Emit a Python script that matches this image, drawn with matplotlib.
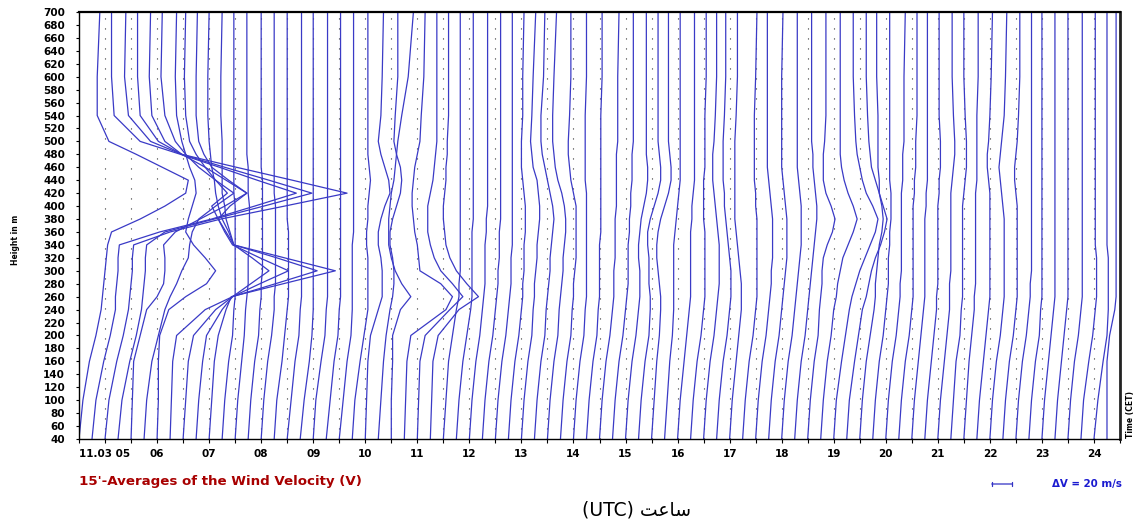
import numpy as np
import matplotlib.pyplot as plt

# heights of the profile points (m)
heights = [40, 100, 160, 200, 240, 260, 280, 300, 320, 340, 360,
           380, 400, 420, 440, 460, 480, 500, 540, 600, 700]

# one profile every 15 minutes, 04:30 .. 24:15
times = np.arange(4.5, 24.5, 0.25)

# wind velocity of each profile (m/s, relative to the lowest gate)
prof_0430 = [
    [0, 3, 8, 13, 17, 18, 19, 20, 21, 22, 25, 47, 66, 82, 84, 64, 44, 23, 14, 14, 16],
    [0, 3, 9, 14, 18, 18, 19, 20, 20, 21, 52, 92, 125, 157, 127, 98, 68, 37, 17, 15, 15],
    [0, 3, 9, 14, 18, 19, 20, 21, 21, 22, 50, 89, 138, 186, 144, 101, 59, 35, 18, 15, 16],
    [0, 3, 9, 14, 18, 19, 20, 21, 21, 22, 36, 74, 112, 149, 116, 82, 49, 31, 17, 15, 15],
    [0, 1, 2, 7, 12, 20, 25, 26, 26, 25, 34, 53, 72, 89, 73, 57, 39, 26, 16, 14, 15],
    [0, 2, 6, 11, 16, 20, 25, 29, 34, 35, 37, 42, 55, 69, 55, 42, 32, 24, 16, 13, 14],
    [0, 1, 1, 2, 9, 22, 38, 45, 37, 28, 22, 24, 27, 30, 29, 25, 22, 19, 15, 14, 15],
    [0, 1, 2, 5, 27, 48, 62, 76, 63, 49, 43, 37, 32, 44, 35, 27, 20, 15, 12, 11, 12],
    [0, 2, 4, 8, 25, 38, 59, 81, 59, 38, 32, 27, 36, 49, 35, 22, 16, 12, 10, 10, 11],
    [0, 2, 5, 8, 20, 28, 61, 93, 62, 29, 25, 20, 17, 15, 14, 12, 11, 10, 9, 9, 10],
    [0, 2, 4, 7, 13, 17, 57, 97, 58, 19, 16, 13, 12, 10, 10, 10, 10, 10, 9, 9, 10],
    [0, 2, 5, 8, 9, 10, 10, 10, 10, 10, 10, 10, 10, 9, 9, 9, 9, 9, 9, 9, 9],
    [0, 2, 5, 7, 8, 9, 10, 10, 10, 11, 11, 11, 11, 10, 10, 10, 9, 9, 9, 9, 9],
    [0, 2, 5, 8, 9, 10, 10, 11, 11, 11, 11, 11, 11, 11, 11, 10, 10, 10, 10, 10, 10],
    [0, 2, 5, 8, 10, 10, 11, 11, 11, 11, 11, 11, 11, 10, 10, 10, 10, 10, 10, 10, 10],
    [0, 2, 6, 8, 10, 11, 11, 11, 11, 11, 11, 10, 10, 10, 10, 10, 10, 10, 10, 10, 10],
    [0, 3, 6, 9, 10, 11, 11, 11, 11, 11, 11, 11, 11, 11, 11, 11, 11, 11, 11, 11, 11],
    [0, 3, 7, 9, 10, 10, 10, 10, 10, 10, 10, 10, 10, 10, 10, 10, 10, 10, 10, 10, 10],
    [0, 2, 6, 9, 10, 11, 11, 11, 11, 11, 11, 11, 11, 11, 11, 11, 11, 11, 11, 11, 11],
    [0, 3, 6, 9, 10, 11, 11, 11, 11, 11, 11, 11, 11, 11, 11, 11, 11, 11, 11, 11, 11],
]
prof_0930 = [
    [0, 3, 6, 9, 10, 10, 10, 10, 10, 10, 11, 11, 11, 11, 11, 11, 11, 11, 11, 11, 11],
    [0, 2, 6, 9, 12, 12, 12, 12, 12, 11, 11, 12, 12, 13, 14, 13, 12, 12, 12, 12, 12],
    [0, 1, 2, 4, 10, 13, 13, 13, 12, 10, 10, 12, 15, 19, 18, 15, 12, 10, 12, 13, 14],
    [0, 2, 4, 6, 9, 11, 12, 12, 11, 9, 9, 11, 14, 17, 18, 17, 14, 12, 13, 15, 15],
    [0, 0, 1, 1, 7, 15, 8, 3, 0, -2, -2, -2, -1, 0, 2, 3, 4, 5, 8, 13, 17],
    [0, 1, 2, 5, 32, 37, 28, 12, 11, 10, 8, 7, 6, 6, 7, 8, 10, 12, 13, 15, 16],
    [0, 1, 2, 6, 25, 35, 27, 18, 13, 10, 8, 8, 8, 10, 12, 13, 14, 15, 15, 15, 15],
    [0, 1, 2, 6, 22, 37, 28, 20, 15, 12, 11, 10, 10, 11, 12, 12, 13, 13, 14, 14, 14],
    [0, 2, 4, 7, 10, 12, 12, 13, 13, 13, 13, 13, 13, 13, 13, 13, 13, 13, 13, 13, 13],
    [0, 2, 5, 8, 11, 12, 12, 12, 12, 12, 12, 13, 13, 13, 13, 13, 13, 13, 13, 13, 13],
    [0, 2, 5, 8, 10, 11, 12, 12, 12, 12, 13, 13, 14, 14, 14, 14, 14, 14, 14, 14, 14],
    [0, 2, 5, 8, 10, 11, 12, 12, 13, 13, 13, 14, 14, 14, 14, 14, 14, 14, 14, 14, 14],
    [0, 2, 5, 8, 10, 11, 12, 12, 12, 13, 13, 13, 13, 13, 13, 13, 13, 13, 13, 13, 13],
    [0, 2, 5, 8, 10, 11, 11, 12, 12, 12, 13, 13, 13, 12, 11, 10, 10, 10, 11, 11, 12],
    [0, 2, 5, 8, 9, 10, 10, 11, 12, 12, 13, 14, 14, 13, 12, 9, 8, 7, 8, 9, 11],
    [0, 2, 5, 8, 9, 10, 11, 12, 12, 13, 14, 15, 14, 12, 10, 8, 6, 5, 5, 7, 8],
    [0, 2, 5, 8, 9, 10, 11, 12, 12, 13, 14, 14, 13, 11, 8, 6, 5, 4, 4, 5, 7],
    [0, 2, 5, 8, 9, 10, 10, 11, 12, 12, 12, 12, 12, 10, 8, 7, 6, 6, 7, 8, 8],
    [0, 2, 5, 8, 9, 10, 10, 10, 10, 10, 10, 10, 10, 10, 9, 9, 9, 9, 9, 10, 10],
    [0, 2, 5, 8, 9, 10, 10, 10, 10, 10, 11, 11, 11, 11, 11, 11, 11, 11, 11, 12, 12],
]
prof_1430 = [
    [0, 2, 5, 8, 10, 11, 11, 11, 12, 12, 12, 12, 13, 13, 13, 13, 13, 14, 14, 14, 15],
    [0, 2, 5, 8, 10, 11, 12, 12, 12, 12, 13, 13, 14, 14, 15, 15, 15, 16, 16, 16, 16],
    [0, 2, 5, 8, 10, 11, 11, 11, 10, 10, 11, 12, 14, 16, 17, 17, 16, 16, 16, 16, 16],
    [0, 2, 5, 8, 9, 9, 8, 8, 8, 7, 7, 9, 12, 15, 17, 17, 16, 15, 15, 15, 15],
    [0, 2, 4, 6, 7, 7, 6, 5, 4, 4, 5, 7, 10, 13, 15, 15, 14, 13, 13, 13, 13],
    [0, 2, 4, 6, 7, 7, 7, 7, 7, 7, 8, 9, 10, 11, 12, 12, 12, 12, 12, 12, 12],
    [0, 2, 5, 7, 9, 10, 10, 10, 10, 10, 10, 11, 11, 12, 13, 13, 13, 13, 13, 13, 13],
    [0, 2, 5, 8, 10, 11, 11, 11, 11, 11, 11, 10, 10, 10, 10, 11, 11, 11, 11, 12, 12],
    [0, 2, 5, 8, 10, 11, 12, 12, 12, 12, 11, 10, 9, 8, 7, 7, 7, 8, 9, 10, 10],
    [0, 2, 5, 8, 10, 11, 11, 11, 10, 9, 8, 7, 6, 6, 5, 5, 5, 5, 6, 7, 7],
    [0, 2, 5, 7, 9, 9, 9, 8, 7, 6, 5, 4, 4, 4, 4, 4, 4, 4, 5, 6, 6],
    [0, 2, 5, 8, 10, 11, 11, 11, 11, 11, 11, 11, 10, 10, 9, 9, 9, 9, 9, 10, 11],
    [0, 2, 5, 8, 10, 11, 12, 12, 13, 13, 13, 13, 12, 11, 10, 9, 9, 9, 9, 9, 9],
    [0, 2, 5, 8, 10, 11, 12, 13, 14, 14, 14, 14, 13, 12, 11, 10, 10, 10, 10, 10, 11],
    [0, 2, 5, 8, 10, 11, 12, 13, 14, 15, 15, 15, 15, 14, 13, 12, 12, 12, 12, 12, 12],
    [0, 2, 5, 8, 10, 11, 12, 13, 14, 15, 16, 17, 17, 16, 15, 14, 14, 13, 13, 13, 13],
    [0, 2, 5, 8, 9, 10, 11, 11, 12, 15, 19, 21, 18, 14, 12, 12, 12, 13, 14, 14, 14],
    [0, 2, 5, 8, 10, 12, 13, 15, 17, 21, 25, 28, 25, 21, 18, 16, 15, 15, 15, 15, 15],
    [0, 2, 6, 9, 12, 14, 17, 20, 24, 28, 32, 34, 30, 25, 22, 20, 18, 17, 16, 15, 15],
    [0, 2, 6, 9, 12, 15, 17, 19, 22, 26, 29, 31, 28, 25, 22, 19, 18, 17, 16, 15, 15],
]
prof_1930 = [
    [0, 2, 5, 8, 11, 12, 12, 13, 14, 15, 17, 18, 17, 15, 15, 14, 14, 14, 14, 13, 13],
    [0, 2, 5, 8, 10, 11, 12, 12, 12, 13, 13, 14, 14, 14, 13, 13, 13, 13, 13, 13, 13],
    [0, 2, 5, 8, 10, 11, 11, 12, 12, 12, 12, 12, 12, 12, 13, 13, 13, 14, 14, 14, 15],
    [0, 2, 5, 8, 10, 11, 11, 11, 11, 11, 11, 11, 11, 12, 12, 13, 13, 13, 14, 14, 14],
    [0, 2, 5, 7, 9, 10, 10, 10, 10, 10, 10, 10, 11, 11, 12, 12, 12, 12, 12, 12, 12],
    [0, 2, 5, 7, 9, 9, 10, 10, 10, 10, 10, 10, 10, 11, 11, 12, 12, 12, 11, 11, 11],
    [0, 2, 5, 7, 9, 9, 9, 10, 10, 10, 10, 10, 10, 10, 11, 12, 13, 13, 12, 11, 11],
    [0, 2, 4, 7, 8, 9, 9, 9, 9, 9, 9, 9, 9, 10, 11, 12, 12, 12, 11, 10, 10],
    [0, 2, 4, 6, 8, 8, 9, 9, 9, 9, 9, 9, 9, 9, 10, 10, 10, 10, 10, 11, 11],
    [0, 2, 5, 7, 9, 10, 10, 10, 10, 10, 10, 10, 10, 10, 9, 8, 8, 9, 10, 11, 12],
    [0, 2, 5, 8, 10, 11, 11, 11, 11, 11, 11, 11, 10, 9, 8, 7, 8, 9, 11, 12, 13],
    [0, 2, 5, 8, 10, 11, 11, 11, 11, 11, 11, 11, 11, 10, 9, 9, 10, 11, 12, 13, 13],
    [0, 2, 5, 8, 10, 11, 11, 12, 12, 12, 12, 12, 12, 12, 12, 12, 12, 12, 12, 12, 12],
    [0, 2, 5, 8, 9, 10, 10, 10, 10, 10, 10, 10, 10, 10, 10, 10, 10, 10, 10, 10, 10],
    [0, 2, 5, 7, 9, 10, 10, 10, 10, 10, 10, 10, 10, 10, 10, 10, 10, 10, 10, 10, 10],
    [0, 2, 5, 7, 9, 10, 10, 10, 10, 10, 10, 10, 10, 10, 10, 10, 10, 10, 10, 10, 10],
    [0, 2, 5, 8, 10, 11, 11, 11, 11, 11, 11, 11, 11, 11, 11, 11, 11, 11, 11, 11, 11],
    [0, 2, 6, 9, 11, 12, 12, 12, 12, 11, 11, 11, 11, 11, 11, 11, 11, 11, 11, 11, 11],
    [0, 3, 7, 10, 11, 11, 11, 11, 11, 10, 10, 10, 10, 10, 10, 10, 10, 10, 10, 10, 10],
    [0, 0, 0, 2, 6, 7, 7, 7, 7, 7, 7, 7, 7, 7, 7, 7, 7, 7, 7, 7, 7],
]
profiles = prof_0430 + prof_0930 + prof_1430 + prof_1930

hour_ticks = list(range(5, 25))
hour_labels = ['11.03 05'] + ['%02d' % h for h in range(6, 25)]
height_ticks = list(range(40, 701, 20))

scale = 0.5 / 20.0   # hours per m/s  (dV = 20 m/s <-> 30 min)

W, H = 1134, 522
fig = plt.figure(figsize=(W / 100, H / 100), dpi=100)
ax = fig.add_axes([79 / W, 1 - 439 / H, (1120 - 79) / W, (439 - 12) / H])

# half-hour dotted guide lines
for t in np.arange(5.0, 24.01, 0.5):
    ax.axvline(t, color='#333333', lw=0.8, ls=(0, (1, 8)), zorder=1)

for t, v in zip(times, profiles):
    ax.plot(t + np.array(v) * scale, heights, color='#3a3ac6', lw=0.9, zorder=2)

ax.set_xlim(4.5, 24.5)
ax.set_ylim(40, 700)
ax.set_yticks(height_ticks)
ax.set_yticklabels([str(h) for h in height_ticks], fontsize=7.5, fontweight='bold')
ax.set_xticks(hour_ticks)
ax.set_xticklabels(hour_labels, fontsize=7.5, fontweight='bold')
ax.set_xticks(np.arange(4.5, 24.51, 0.5), minor=True)
ax.tick_params(axis='y', length=2, width=0.8, pad=8)
ax.tick_params(axis='x', which='both', length=3, width=0.8, pad=4)

for s in ['left', 'bottom']:
    ax.spines[s].set_linewidth(1.0)
ax.spines['top'].set_linewidth(1.6)
ax.spines['right'].set_linewidth(2.0)
ax.spines['right'].set_color('#222222')

fig.text(15 / W, 1 - 240 / H, 'Height in m', rotation=90, fontsize=5.5,
         fontweight='bold', ha='center', va='center')
fig.text(1130 / W, 1 - 415 / H, 'Time (CET)', rotation=90, fontsize=5.5,
         fontweight='bold', ha='center', va='center')

fig.text(79 / W, 1 - 482 / H, "15'-Averages of the Wind Velocity (V)", color='#a80000',
         fontsize=9.6, fontweight='bold', ha='left', va='center')

ax.annotate('', xy=(1015 / W, 1 - 484 / H), xytext=(989 / W, 1 - 484 / H),
            xycoords='figure fraction', textcoords='figure fraction',
            arrowprops=dict(arrowstyle='|-|,widthA=0.15,widthB=0.15', color='#3232c4', lw=0.9))
fig.text(1052 / W, 1 - 484 / H, '\u0394V = 20 m/s', color='#1a1ad0', fontsize=7.4,
         fontweight='bold', ha='left', va='center')

# Persian caption, glyphs in presentation forms (visual order)
fig.text(636 / W, 1 - 510 / H, '(UTC) \ufe96\ufecb\ufe8e\ufeb3', fontsize=13.5,
         family='DejaVu Sans', ha='center', va='center')

fig.savefig('out.png', dpi=100)
